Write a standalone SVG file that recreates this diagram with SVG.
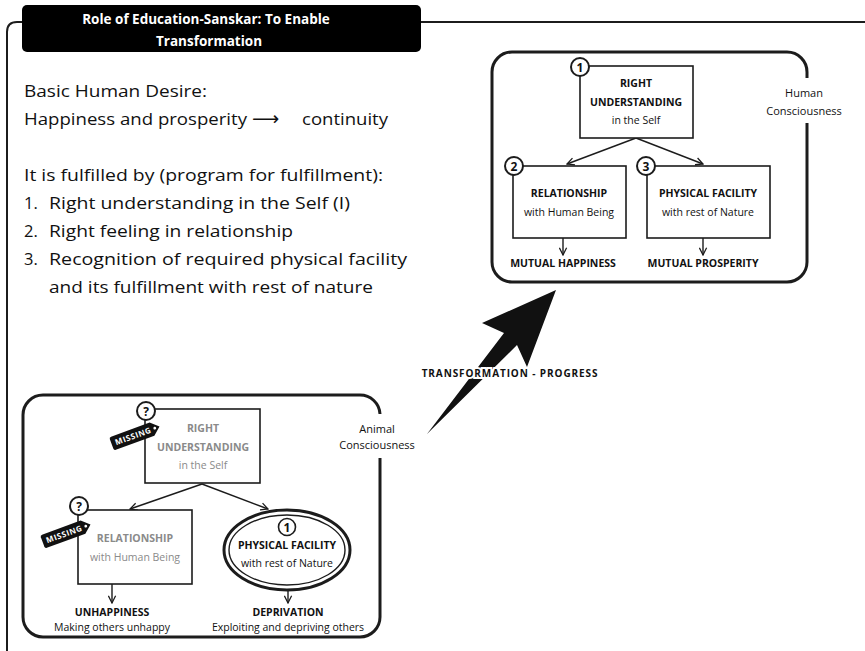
<svg xmlns="http://www.w3.org/2000/svg" width="865" height="651" viewBox="0 0 865 651">
  <defs>
    <style>
      text { font-family: "Open Sans", "Liberation Sans", sans-serif; fill: #111; }
      .body { font-size: 16.5px; }
      .hd { font-size: 10.5px; font-weight: 700; text-anchor: middle; }
      .sub { font-size: 10.5px; text-anchor: middle; }
      .faded { fill: #8a8a8a; }
      .num { font-size: 12px; font-weight: 700; text-anchor: middle; }
      .lbl { font-size: 11px; text-anchor: middle; }
      .title { font-size: 13.5px; font-weight: 700; fill: #fff; text-anchor: middle; }
      .tagtxt { font-size: 8px; font-weight: 700; fill: #fff; letter-spacing: 0.6px; text-anchor: middle; }
      .frame { fill: none; stroke: #1c1c1c; stroke-width: 3; }
      .box { fill: #fff; stroke: #1c1c1c; stroke-width: 1.6; }
      .badge { fill: #fff; stroke: #1c1c1c; stroke-width: 2; }
      .conn { fill: none; stroke: #1c1c1c; stroke-width: 1.4; marker-end: url(#vee); }
    </style>
    <marker id="vee" viewBox="0 0 10 10" refX="9" refY="5" markerWidth="9" markerHeight="9" markerUnits="userSpaceOnUse" orient="auto">
      <path d="M1,1 L9,5 L1,9" fill="none" stroke="#1c1c1c" stroke-width="1.4"/>
    </marker>
    <g id="tag">
      <path d="M-24,-7 H17 L25,0 L17,7 H-24 Q-26,7 -26,5 V-5 Q-26,-7 -24,-7 Z" fill="#111"/>
      <circle cx="20" cy="0" r="1.4" fill="#fff"/>
    </g>
  </defs>

  <rect width="865" height="651" fill="#fff"/>

  <!-- outer page frame -->
  <path d="M7,651 V32 Q7,22 17,22 H865" fill="none" stroke="#1c1c1c" stroke-width="2"/>

  <!-- title banner -->
  <g id="title">
    <rect x="22" y="5" width="399" height="47" rx="5" fill="#000"/>
    <text class="title" x="206" y="24">Role of Education-Sanskar: To Enable</text>
    <text class="title" x="209" y="46">Transformation</text>
  </g>

  <!-- introductory text -->
  <g id="intro">
    <text class="body" x="24" y="97" textLength="183" lengthAdjust="spacingAndGlyphs">Basic Human Desire:</text>
    <text class="body" x="24" y="125" textLength="223" lengthAdjust="spacingAndGlyphs">Happiness and prosperity</text>
    <text x="252" y="125" style="font-family: 'DejaVu Sans', sans-serif; font-size: 19px">⟶</text>
    <text class="body" x="302" y="125" textLength="86" lengthAdjust="spacingAndGlyphs">continuity</text>
    <text class="body" x="24" y="181" textLength="359" lengthAdjust="spacingAndGlyphs">It is fulfilled by (program for fulfillment):</text>
    <text class="body" x="24" y="209">1.</text>
    <text class="body" x="49" y="209" textLength="301" lengthAdjust="spacingAndGlyphs">Right understanding in the Self (I)</text>
    <text class="body" x="24" y="237">2.</text>
    <text class="body" x="49" y="237" textLength="244" lengthAdjust="spacingAndGlyphs">Right feeling in relationship</text>
    <text class="body" x="24" y="265">3.</text>
    <text class="body" x="49" y="265" textLength="358" lengthAdjust="spacingAndGlyphs">Recognition of required  physical facility</text>
    <text class="body" x="49" y="293" textLength="324" lengthAdjust="spacingAndGlyphs">and its fulfillment with rest of nature</text>
  </g>

  <!-- Human consciousness panel -->
  <g id="human-panel">
    <path class="frame" d="M807,78 V72 A20,20 0 0 0 787,52 H512 A20,20 0 0 0 492,72 V262 A20,20 0 0 0 512,282 H787 A20,20 0 0 0 807,262 V123"/>
    <text class="lbl" x="804" y="97">Human</text>
    <text class="lbl" x="804" y="115">Consciousness</text>
  </g>

  <!-- Animal consciousness panel -->
  <g id="animal-panel">
    <path class="frame" d="M380,414 A20,20 0 0 0 360,395 H43 A20,20 0 0 0 23,415 V617 A20,20 0 0 0 43,637 H360 A20,20 0 0 0 380,617 V458"/>
    <text class="lbl" x="377" y="433">Animal</text>
    <text class="lbl" x="377" y="449">Consciousness</text>
  </g>

  <!-- connectors -->
  <g id="connectors">
    <line class="conn" x1="636" y1="138" x2="567" y2="164"/>
    <line class="conn" x1="636" y1="138" x2="703" y2="164"/>
    <line class="conn" x1="563" y1="238" x2="563" y2="255"/>
    <line class="conn" x1="703" y1="238" x2="703" y2="255"/>
    <line class="conn" x1="202" y1="484" x2="130" y2="509"/>
    <line class="conn" x1="202" y1="484" x2="268" y2="509"/>
    <line class="conn" x1="112" y1="584" x2="112" y2="603"/>
    <line class="conn" x1="288" y1="591" x2="288" y2="603"/>
    <!-- transformation arrow -->
    <polygon points="556,290 527,367 517,345 427,434 504,333 482,323" fill="#111"/>
    <text x="510" y="377" text-anchor="middle" style="font-size:10px;font-weight:700;letter-spacing:0.9px;paint-order:stroke;stroke:#fff;stroke-width:4px">TRANSFORMATION - PROGRESS</text>
  </g>

  <!-- Human panel nodes -->
  <g id="h-understanding">
    <rect class="box" x="580" y="66" width="113" height="72"/>
    <text class="hd" x="636" y="87">RIGHT</text>
    <text class="hd" x="636" y="106">UNDERSTANDING</text>
    <text class="sub" x="636" y="124">in the Self</text>
    <circle class="badge" cx="580" cy="67" r="9"/>
    <text class="num" x="580" y="71.5">1</text>
  </g>
  <g id="h-relationship">
    <rect class="box" x="513" y="166" width="113" height="72"/>
    <text class="hd" x="569" y="197">RELATIONSHIP</text>
    <text class="sub" x="569" y="216">with Human Being</text>
    <circle class="badge" cx="514" cy="166" r="9"/>
    <text class="num" x="514" y="170.5">2</text>
  </g>
  <g id="h-physical">
    <rect class="box" x="647" y="166" width="123" height="72"/>
    <text class="hd" x="708" y="197">PHYSICAL FACILITY</text>
    <text class="sub" x="708" y="216">with rest of Nature</text>
    <circle class="badge" cx="646" cy="166" r="9"/>
    <text class="num" x="646" y="170.5">3</text>
  </g>
  <g id="h-outcomes">
    <text class="hd" x="563" y="267">MUTUAL HAPPINESS</text>
    <text class="hd" x="703" y="267">MUTUAL PROSPERITY</text>
  </g>

  <!-- Animal panel nodes -->
  <g id="a-understanding">
    <rect class="box" x="145" y="409" width="115" height="74"/>
    <text class="hd faded" x="203" y="432">RIGHT</text>
    <text class="hd faded" x="203" y="451">UNDERSTANDING</text>
    <text class="sub faded" x="203" y="469">in the Self</text>
    <circle class="badge" cx="146" cy="411" r="9"/>
    <text class="num" x="146" y="415.5">?</text>
    <g transform="translate(136,435) rotate(-20)">
      <use href="#tag"/>
      <text class="tagtxt" x="-3" y="3">MISSING</text>
    </g>
  </g>
  <g id="a-relationship">
    <rect class="box" x="78" y="510" width="114" height="74"/>
    <text class="hd faded" x="135" y="542">RELATIONSHIP</text>
    <text class="sub faded" x="135" y="561">with Human Being</text>
    <circle class="badge" cx="79" cy="506" r="9"/>
    <text class="num" x="79" y="510.5">?</text>
    <g transform="translate(67,533) rotate(-20)">
      <use href="#tag"/>
      <text class="tagtxt" x="-3" y="3">MISSING</text>
    </g>
  </g>
  <g id="a-physical">
    <ellipse cx="287" cy="550" rx="63" ry="40" fill="#fff" stroke="#1c1c1c" stroke-width="3"/>
    <ellipse cx="287" cy="550" rx="58" ry="35" fill="none" stroke="#1c1c1c" stroke-width="1.4"/>
    <circle cx="287" cy="527" r="8.5" fill="#fff" stroke="#1c1c1c" stroke-width="1.6"/>
    <text class="num" x="287" y="531.5">1</text>
    <text class="hd" x="287" y="549">PHYSICAL FACILITY</text>
    <text class="sub" x="287" y="567">with rest of Nature</text>
  </g>
  <g id="a-outcomes">
    <text class="hd" x="112" y="616">UNHAPPINESS</text>
    <text class="sub" x="112" y="631">Making others unhappy</text>
    <text class="hd" x="288" y="616">DEPRIVATION</text>
    <text class="sub" x="288" y="631">Exploiting and depriving others</text>
  </g>
</svg>
